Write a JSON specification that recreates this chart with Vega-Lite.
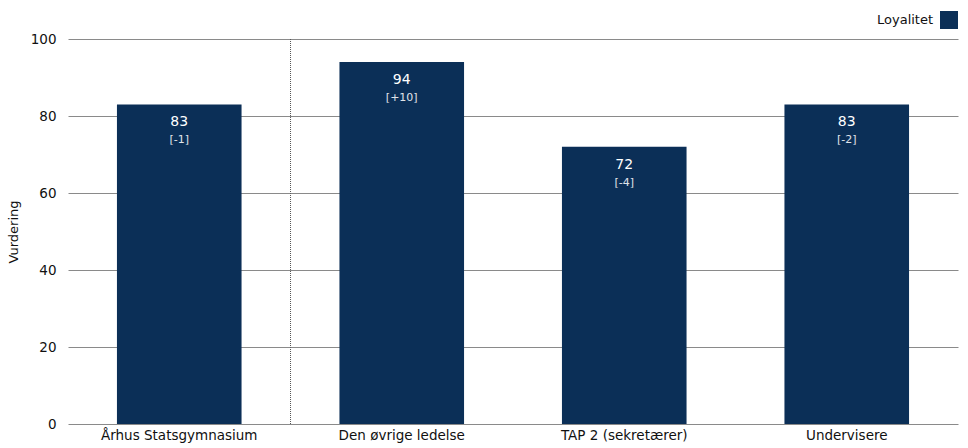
{
  "$schema": "https://vega.github.io/schema/vega-lite/v6.json",
  "width": 890,
  "height": 385,
  "autosize": {"type": "none"},
  "padding": {"left": 68, "top": 39, "right": 10, "bottom": 24},
  "background": "white",
  "config": {
    "font": "DejaVu Sans",
    "view": {"stroke": null}
  },
  "data": {
    "values": [
      {"gruppe": "Århus Statsgymnasium", "vurdering": 83, "aendring": "[-1]", "serie": "Loyalitet"},
      {"gruppe": "Den øvrige ledelse", "vurdering": 94, "aendring": "[+10]", "serie": "Loyalitet"},
      {"gruppe": "TAP 2 (sekretærer)", "vurdering": 72, "aendring": "[-4]", "serie": "Loyalitet"},
      {"gruppe": "Undervisere", "vurdering": 83, "aendring": "[-2]", "serie": "Loyalitet"}
    ]
  },
  "encoding": {
    "x": {
      "field": "gruppe",
      "type": "nominal",
      "sort": null,
      "scale": {"paddingInner": 0.44, "paddingOuter": 0.22},
      "axis": {
        "title": null,
        "labelAngle": 0,
        "labelFontSize": 13.5,
        "labelColor": "#111",
        "labelPadding": 4,
        "ticks": false,
        "domain": false
      }
    }
  },
  "layer": [
    {
      "mark": {"type": "bar"},
      "encoding": {
        "y": {
          "field": "vurdering",
          "type": "quantitative",
          "scale": {"domain": [0, 100]},
          "axis": {
            "title": "Vurdering",
            "titleFontWeight": "normal",
            "titleFontSize": 13,
            "titleColor": "#111",
            "titlePadding": 10,
            "values": [0, 20, 40, 60, 80, 100],
            "labelFontSize": 13.5,
            "labelColor": "#111",
            "labelPadding": 12,
            "ticks": false,
            "domain": false,
            "grid": true,
            "gridColor": "#8a8a8a",
            "gridWidth": 1
          }
        },
        "color": {
          "field": "serie",
          "type": "nominal",
          "scale": {"range": ["#0b2f57"]},
          "legend": {
            "orient": "none",
            "legendX": 809,
            "legendY": -28,
            "title": "Loyalitet",
            "titleOrient": "left",
            "titleFontWeight": "normal",
            "titleFontSize": 13,
            "titleColor": "#111",
            "titlePadding": 6,
            "titleBaseline": "middle",
            "labelExpr": "''",
            "symbolType": "square",
            "symbolSize": 324,
            "symbolStrokeWidth": 0,
            "symbolOpacity": 1
          }
        }
      }
    },
    {
      "mark": {"type": "text", "color": "white", "fontSize": 14, "fontWeight": "normal", "baseline": "top", "dy": 11},
      "encoding": {
        "y": {"field": "vurdering", "type": "quantitative"},
        "text": {"field": "vurdering", "type": "quantitative"}
      }
    },
    {
      "mark": {"type": "text", "color": "#e0e4ea", "fontSize": 11, "fontWeight": "normal", "baseline": "top", "dy": 30},
      "encoding": {
        "y": {"field": "vurdering", "type": "quantitative"},
        "text": {"field": "aendring", "type": "nominal"}
      }
    },
    {
      "data": {"values": [{"gruppe": "Århus Statsgymnasium"}]},
      "mark": {"type": "rule", "color": "#555", "strokeDash": [1, 1], "strokeWidth": 1},
      "encoding": {
        "x": {"field": "gruppe", "type": "nominal", "bandPosition": 1.393}
      }
    }
  ]
}
